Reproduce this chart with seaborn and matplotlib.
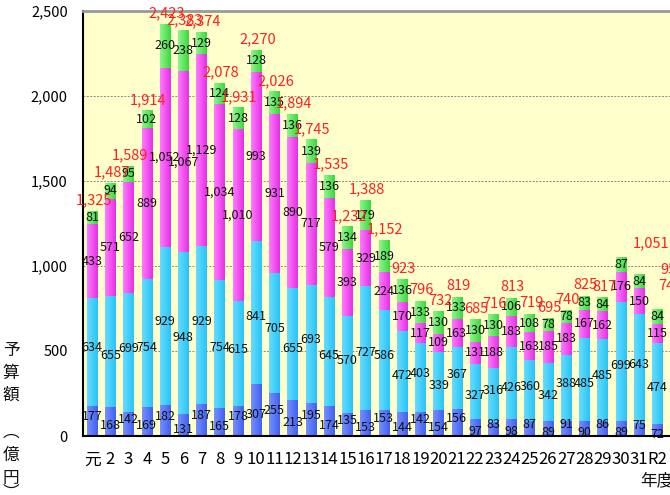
import numpy as np
import pandas as pd
import matplotlib
matplotlib.use("Agg")
import matplotlib.pyplot as plt
from matplotlib.colors import LinearSegmentedColormap
import seaborn as sns

years = ["元", "2", "3", "4", "5", "6", "7", "8", "9", "10", "11", "12", "13", "14", "15", "16",
         "17", "18", "19", "20", "21", "22", "23", "24", "25", "26", "27", "28", "29", "30", "31", "R2"]
blue = [177, 168, 142, 169, 182, 131, 187, 165, 178, 307, 255, 213, 195, 174, 135, 153,
        153, 144, 142, 154, 156, 97, 83, 98, 87, 89, 91, 90, 86, 89, 75, 72]
cyan = [634, 655, 699, 754, 929, 948, 929, 754, 615, 841, 705, 655, 693, 645, 570, 727,
        586, 472, 403, 339, 367, 327, 316, 426, 360, 342, 388, 485, 485, 699, 643, 474]
magenta = [433, 571, 652, 889, 1052, 1067, 1129, 1034, 1010, 993, 931, 890, 717, 579, 393, 329,
           224, 170, 117, 109, 163, 131, 188, 183, 163, 185, 183, 167, 162, 176, 150, 115]
green = [81, 94, 95, 102, 260, 238, 129, 124, 128, 128, 135, 136, 139, 136, 134, 179,
         189, 136, 133, 130, 133, 130, 130, 106, 108, 78, 78, 83, 84, 87, 84, 84]
totals = [1325, 1487, 1589, 1914, 2423, 2383, 2374, 2078, 1931, 2270, 2026, 1894, 1745, 1535, 1232, 1388,
          1152, 923, 796, 732, 819, 685, 716, 813, 719, 695, 740, 825, 817, 1051, 952, 745]
yticks = [0, 500, 1000, 1500, 2000, 2500]

sns.set_theme(style="white")
plt.rcParams['font.family'] = ['Noto Sans CJK JP', 'DejaVu Sans']

fig = plt.figure(figsize=(6.7, 4.95), dpi=100)
fig.patch.set_facecolor("white")
ax = fig.add_axes([83/670, 59/495, 620/670, 425.3/495])
ax.set_facecolor("#FFFFCC")

df = pd.DataFrame({"year": years, "blue": blue, "cyan": cyan, "magenta": magenta, "green": green})
layers = ["blue", "cyan", "magenta", "green"]
colors = {"blue": "#5A78FF", "cyan": "#40D0FF", "magenta": "#FF4CFF", "green": "#5EEA5E"}
grads = {"blue": ("#7590FF", "#4060F2"), "cyan": ("#66DCFF", "#28C4F6"),
         "magenta": ("#FF7CFF", "#E62EE6"), "green": ("#8CF68C", "#3CD83C")}
cum = df[layers].cumsum(axis=1)
grad_img = np.linspace(0, 1, 64).reshape(1, -1)

# draw cumulative bars from top layer downwards so each covers the one below
for k, layer in enumerate(reversed(layers)):
    z = 2 + 0.1 * k
    n0 = len(ax.patches)
    sns.barplot(x=df["year"], y=cum[layer], color=colors[layer], width=0.58,
                saturation=1, ax=ax, zorder=z, edgecolor="none", linewidth=0)
    cmap = LinearSegmentedColormap.from_list(layer, list(grads[layer]))
    for p in ax.patches[n0:]:
        x0, y0, w, h = p.get_x(), p.get_y(), p.get_width(), p.get_height()
        im = ax.imshow(grad_img, extent=[x0, x0 + w, y0, y0 + h], cmap=cmap,
                       aspect="auto", zorder=z + 0.01, interpolation="bilinear")
        im.set_clip_path(p)

# segment labels
for li, layer in enumerate(layers):
    bottoms = cum[layer] - df[layer]
    for i, v in enumerate(df[layer]):
        mid = bottoms[i] + v / 2
        off = 0
        if layer in ("blue", "cyan"):
            off = 3 if i % 2 == 0 else -3
        ax.annotate(f"{v:,}", (i, mid), xytext=(0, off), textcoords="offset points",
                    ha="center", va="center", fontsize=9, color="#111111", zorder=5)

# total labels
special = {29: (22, 10), 30: (24, 3), 31: (9, 17)}
for i, t in enumerate(totals):
    top = cum["green"][i]
    dx, dy = special.get(i, (1, 7.5))
    ax.annotate(f"{t:,}", (i, top), xytext=(dx, dy), textcoords="offset points",
                ha="center", va="center", fontsize=10.5, color="#FF2020", zorder=6,
                annotation_clip=False)

ax.set_xlim(-0.5, 33.5)
ax.set_ylim(0, 2500)
ax.set_yticks(yticks)
ax.set_yticklabels([f"{v:,}" for v in yticks], fontsize=10.5)
ax.set_xticks(range(len(years)))
ax.set_xticklabels(years, fontsize=12)
ax.set_xticks(np.arange(len(years)) - 0.5, minor=True)
ax.tick_params(axis="x", which="major", length=0, pad=11, colors="black")
ax.tick_params(axis="x", which="minor", length=3, direction="in", color="#555555", width=0.8)
ax.tick_params(axis="y", length=0, pad=11, colors="black")
ax.set_xlabel("")
ax.set_ylabel("")

for y in yticks[1:-1]:
    ax.axhline(y, color="#888888", lw=0.7, ls=(0, (2, 1.5)), zorder=1)

for s in ["left", "bottom"]:
    ax.spines[s].set_color("black")
    ax.spines[s].set_linewidth(1.5)
ax.spines["top"].set_color("#999999")
ax.spines["top"].set_linewidth(2)
ax.spines["right"].set_visible(False)

# vertical y-axis title
ychars = ["予", "算", "額", "︵", "億", "円", "︶"]
ypos = [350, 373, 395, 432, 455, 478, 493]
for ch, yp in zip(ychars, ypos):
    fig.text(11/670, 1 - yp/495, ch, ha="center", va="center", fontsize=12, color="#111111")

fig.text(640/670, 1 - 481/495, "年度", ha="left", va="center", fontsize=12, color="#111111")

fig.savefig("out.png", dpi=100, facecolor="white")
